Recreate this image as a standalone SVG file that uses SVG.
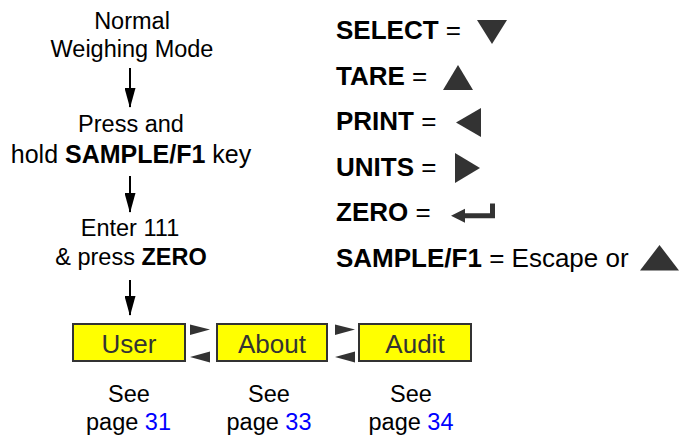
<svg xmlns="http://www.w3.org/2000/svg" width="681" height="436" viewBox="0 0 681 436">
<defs>
<style>
text{font-family:"Liberation Sans",Arial,sans-serif;}
.t{font-size:23.5px;fill:#000;text-anchor:middle}
.b{font-weight:bold}
.k{font-size:26px;fill:#000}
.box{fill:#ffff00;stroke:#333;stroke-width:2}
.lbl{font-size:26px;fill:#333;text-anchor:middle}
.tri{fill:#333}
.ln{stroke:#000;stroke-width:2;fill:none}
.pg{fill:#0000ff}
</style>
<marker id="ah" markerUnits="userSpaceOnUse" markerWidth="20" markerHeight="11" refX="19" refY="5.5" orient="auto" viewBox="0 0 20 11"><path d="M0,0 L20,5.5 L0,11 z" fill="#000"/></marker>
</defs>
<rect width="681" height="436" fill="#fff"/>
<g id="node-normal"><text class="t" x="132" y="28.5">Normal</text><text class="t" x="132" y="57">Weighing Mode</text></g>
<g id="node-press"><text class="t" x="131" y="131.5">Press and</text><text class="t" x="131" y="163" style="font-size:25px">hold <tspan class="b">SAMPLE/F1</tspan> key</text></g>
<g id="node-enter"><text class="t" x="130" y="236">Enter 111</text><text class="t" x="131" y="264.5">&amp; press <tspan class="b">ZERO</tspan></text></g>
<g id="node-user"><rect class="box" x="73" y="324" width="112" height="37"/><text class="lbl" x="129" y="353">User</text><text class="t" x="129" y="401.5">See</text><text class="t" x="128.5" y="429.5">page <tspan class="pg">31</tspan></text></g>
<g id="node-about"><rect class="box" x="217" y="324" width="110" height="37"/><text class="lbl" x="272" y="353">About</text><text class="t" x="269" y="401.5">See</text><text class="t" x="269" y="429.5">page <tspan class="pg">33</tspan></text></g>
<g id="node-audit"><rect class="box" x="359" y="324" width="112" height="37"/><text class="lbl" x="415" y="353">Audit</text><text class="t" x="411" y="401.5">See</text><text class="t" x="411" y="429.5">page <tspan class="pg">34</tspan></text></g>
<g id="connectors">
<line class="ln" x1="130" y1="68" x2="130" y2="107" marker-end="url(#ah)"/>
<line class="ln" x1="130" y1="176" x2="130" y2="212" marker-end="url(#ah)"/>
<line class="ln" x1="130" y1="280" x2="130" y2="315" marker-end="url(#ah)"/>
<polygon class="tri" points="190,324.5 210,329.5 190,335"/>
<polygon class="tri" points="210,351.5 190,357 210,362.5"/>
<polygon class="tri" points="335,324.5 355,329.5 335,335"/>
<polygon class="tri" points="355,351.5 335,357 355,362.5"/>
</g>
<g id="legend">
<text class="k" x="336" y="39"><tspan class="b">SELECT</tspan> =</text>
<polygon class="tri" points="477,20 507,20 492,44"/>
<text class="k" x="336" y="84.5"><tspan class="b">TARE</tspan> =</text>
<polygon class="tri" points="458,65 473,90 443,90"/>
<text class="k" x="336" y="130"><tspan class="b">PRINT</tspan> =</text>
<polygon class="tri" points="481,108 481,137 456,122.5"/>
<text class="k" x="336" y="175.5"><tspan class="b">UNITS</tspan> =</text>
<polygon class="tri" points="455,153 455,183 480,168"/>
<text class="k" x="336" y="221"><tspan class="b">ZERO</tspan> =</text>
<path class="tri" d="M451,215.7 L465,208.7 L465,213.2 L490,213.2 L490,203.5 L495,203.5 L495,218.3 L465,218.3 L465,222.7 z"/>
<text class="k" x="336" y="266.5"><tspan class="b">SAMPLE/F1</tspan> = Escape or</text>
<polygon class="tri" points="659.5,245 679,270.5 640,270.5"/>
</g>
</svg>
